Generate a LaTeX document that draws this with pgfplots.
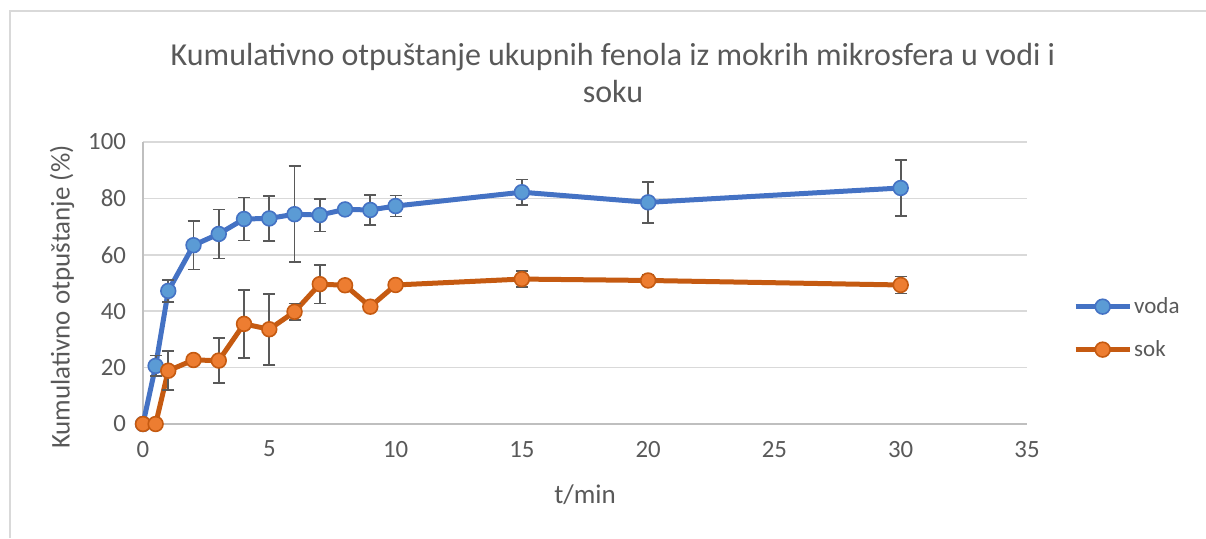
\documentclass[border=0pt]{standalone}
\usepackage{pgfplots}
\pgfplotsset{compat=1.18}
\usepackage{pgfplotstable}
\usepackage{fontspec}
\setmainfont{Carlito}

\definecolor{txtgray}{HTML}{595959}
\definecolor{gridgray}{HTML}{D9D9D9}
\definecolor{axisgray}{HTML}{BFBFBF}
\definecolor{vodaLine}{HTML}{4472C4}
\definecolor{vodaFill}{HTML}{5B9BD5}
\definecolor{sokLine}{HTML}{C55A11}
\definecolor{sokFill}{HTML}{ED7D31}

% t, mean, error
\pgfplotstableread{
t    y     e
0    0     0
0.5  20.6  3.7
1    47.2  3.8
2    63.4  8.6
3    67.4  8.7
4    72.7  7.6
5    72.9  7.9
6    74.4  17.0
7    74.1  5.8
8    76.1  1.2
9    75.9  5.2
10   77.3  3.7
15   82.2  4.5
20   78.6  7.3
30   83.7  9.9
}\voda

\pgfplotstableread{
t    y     e
0    0     0
0.5  0     0
1    18.9  6.9
2    22.7  1.0
3    22.5  7.9
4    35.5  12.0
5    33.6  12.6
6    39.8  2.9
7    49.6  6.9
8    49.2  1.0
9    41.6  1.0
10   49.3  1.0
15   51.4  2.9
20   50.9  1.8
30   49.3  3.0
}\sok

\begin{document}
\begin{tikzpicture}
\begin{axis}[
    scale only axis,
    width=442pt, height=141pt,
    xmin=0, xmax=35, ymin=0, ymax=100,
    xtick={0,5,...,35}, ytick={0,20,...,100},
    axis lines*=left,
    axis line style={color=axisgray, line width=0.8pt},
    major tick length=0pt,
    ymajorgrids,
    grid style={color=gridgray, line width=0.75pt},
    tick label style={color=txtgray, font=\fontsize{12.4}{14}\selectfont},
    /pgf/number format/assume math mode=true,
    yticklabel style={xshift=-5pt},
    xticklabel style={yshift=-5pt},
    xlabel={t/min},
    ylabel={Kumulativno otpuštanje (\%)},
    label style={color=txtgray, font=\fontsize{13.5}{16}\selectfont},
    xlabel style={at={(axis description cs:0.5,-0.252)}, anchor=center},
    ylabel style={at={(axis description cs:-0.0916,0.45)}, anchor=center},
    legend style={at={(axis description cs:1.045,0.34)}, anchor=west,
        draw=none, fill=none, row sep=10pt,
        font=\fontsize{11.5}{13}\selectfont, text=txtgray,
        nodes={inner sep=1pt}},
    legend cell align=left,
    legend image code/.code={
        \draw[mark repeat=2, mark phase=2] plot coordinates {(0pt,0pt) (13.5pt,0pt) (27pt,0pt)};},
    clip=false,
]
\addplot[color=vodaLine, line width=2.5pt, mark=*,
    mark options={fill=vodaFill, draw=vodaLine, line width=0.8pt, mark size=3.7pt},
    error bars/.cd, y dir=both, y explicit,
    error bar style={color=txtgray, line width=0.9pt},
    error mark options={rotate=90, mark size=3pt, color=txtgray, line width=0.9pt}]
    table[x=t, y=y, y error=e] {\voda};
\addlegendentry{voda}
\addplot[color=sokLine, line width=2.5pt, mark=*,
    mark options={fill=sokFill, draw=sokLine, line width=0.8pt, mark size=3.7pt},
    error bars/.cd, y dir=both, y explicit,
    error bar style={color=txtgray, line width=0.9pt},
    error mark options={rotate=90, mark size=3pt, color=txtgray, line width=0.9pt}]
    table[x=t, y=y, y error=e] {\sok};
\addlegendentry{sok}
\end{axis}
% title
\node[color=txtgray, align=center, font=\fontsize{16}{18.5}\selectfont]
    at (235pt,175.5pt) {Kumulativno otpuštanje ukupnih fenola iz mokrih mikrosfera u vodi i\\soku};
% chart frame (partly cut)
\draw[color=gridgray, line width=1pt] (-66.5pt,-57pt) -- (-66.5pt,206.5pt) -- (531.5pt,206.5pt);
\pgfresetboundingbox
\useasboundingbox (-71.5pt,-57pt) rectangle (531.5pt,212pt);
\end{tikzpicture}
\end{document}
